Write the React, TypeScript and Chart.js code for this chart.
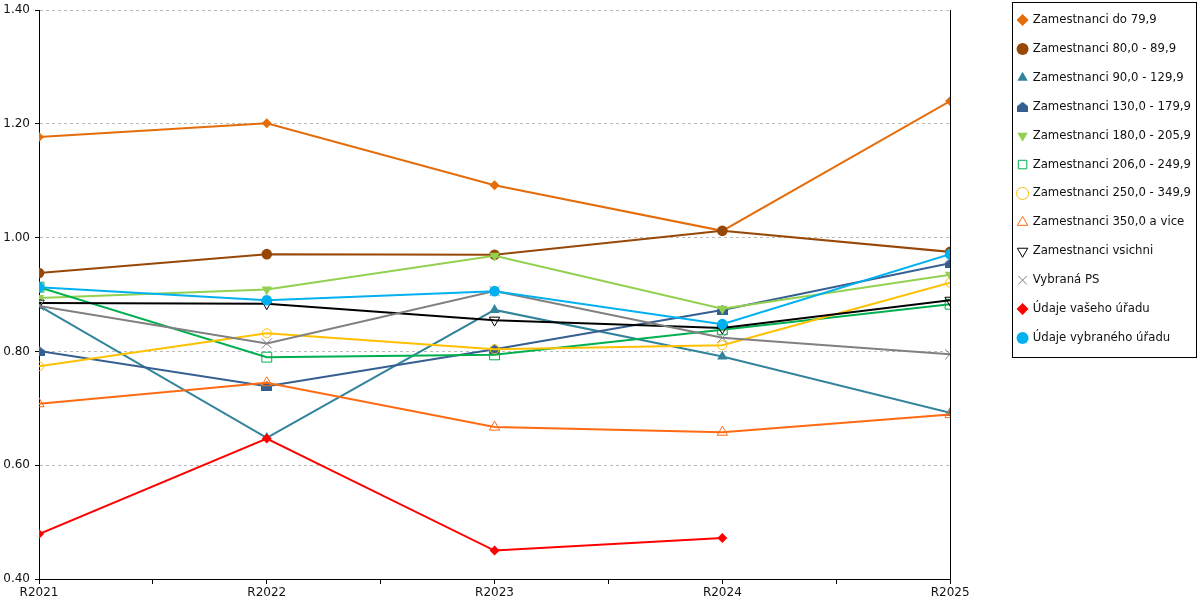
import { useEffect, useRef } from 'react';
import { Chart, registerables } from 'chart.js';

Chart.register(...registerables);

const years = ['R2021', 'R2022', 'R2023', 'R2024', 'R2025'];

const do79 = [1.177, 1.201, 1.092, 1.012, 1.24];
const z80 = [0.938, 0.971, 0.97, 1.012, 0.975];
const z90 = [0.88, 0.648, 0.873, 0.791, 0.692];
const z130 = [0.801, 0.739, 0.804, 0.873, 0.955];
const z180 = [0.894, 0.909, 0.968, 0.875, 0.935];
const z206 = [0.913, 0.79, 0.794, 0.838, 0.883];
const z250 = [0.774, 0.832, 0.804, 0.811, 0.921];
const z350 = [0.708, 0.745, 0.667, 0.658, 0.689];
const vsichni = [0.885, 0.884, 0.855, 0.841, 0.89];
const vybranaPS = [0.88, 0.814, 0.906, 0.824, 0.795];
const vasUrad = [0.479, 0.647, 0.45, 0.472, null];
const vybranyUrad = [0.913, 0.89, 0.906, 0.848, 0.971];

const FONT = 'DejaVu Sans';

function houseMarker(color: string) {
  const c = document.createElement('canvas');
  c.width = 11;
  c.height = 10;
  const ctx = c.getContext('2d')!;
  ctx.fillStyle = color;
  ctx.beginPath();
  ctx.moveTo(5.5, 0);
  ctx.lineTo(11, 4.5);
  ctx.lineTo(11, 10);
  ctx.lineTo(0, 10);
  ctx.lineTo(0, 4.5);
  ctx.closePath();
  ctx.fill();
  return c;
}

// frame round the legend, taken from the legend's own item boxes
const legendFrame = {
  id: 'legendFrame',
  afterDraw(chart: any) {
    const boxes = chart.legend?.legendHitBoxes;
    if (!boxes || !boxes.length) return;
    const ctx = chart.ctx;
    const left = Math.min(...boxes.map((b: any) => b.left)) - 6;
    const right = Math.max(...boxes.map((b: any) => b.left + b.width)) + 5;
    const top = boxes[0].top - 12;
    const last = boxes[boxes.length - 1];
    const bottom = last.top + last.height + 13;
    ctx.save();
    ctx.strokeStyle = '#000';
    ctx.lineWidth = 1;
    ctx.strokeRect(Math.round(left) + 0.5, Math.round(top) + 0.5, Math.round(right - left), Math.round(bottom - top));
    ctx.restore();
  },
};

export default function App() {
  const canvasRef = useRef<HTMLCanvasElement>(null);
  const chartRef = useRef<Chart | null>(null);

  useEffect(() => {
    if (!canvasRef.current) return;
    if (chartRef.current) chartRef.current.destroy();

    const pts = (vals: (number | null)[]) => vals.map((v, i) => ({ x: i, y: v }));

    const series = [
      { label: 'Zamestnanci do 79,9', data: do79, color: '#E46C0A', style: 'rectRot', r: 5, fill: true },
      { label: 'Zamestnanci 80,0 - 89,9', data: z80, color: '#974706', style: 'circle', r: 5.3, fill: true },
      { label: 'Zamestnanci 90,0 - 129,9', data: z90, color: '#31849B', style: 'triangle', r: 6, fill: true },
      { label: 'Zamestnanci 130,0 - 179,9', data: z130, color: '#365F91', style: houseMarker('#365F91'), r: 5, fill: true },
      { label: 'Zamestnanci 180,0 - 205,9', data: z180, color: '#92D050', style: 'triangle', r: 6, fill: true, rot: 180 },
      { label: 'Zamestnanci 206,0 - 249,9', data: z206, color: '#00B050', style: 'rect', r: 7, fill: false },
      { label: 'Zamestnanci 250,0 - 349,9', data: z250, color: '#FFC000', style: 'circle', r: 4.5, fill: false },
      { label: 'Zamestnanci 350,0 a vice', data: z350, color: '#FF6A13', style: 'triangle', r: 6, fill: false },
      { label: 'Zamestnanci vsichni', data: vsichni, color: '#000000', style: 'triangle', r: 6, fill: false, rot: 180 },
      { label: 'Vybraná PS', data: vybranaPS, color: '#808080', style: 'crossRot', r: 7, fill: false },
      { label: 'Údaje vašeho úřadu', data: vasUrad, color: '#FF0000', style: 'rectRot', r: 5, fill: true },
      { label: 'Údaje vybraného úřadu', data: vybranyUrad, color: '#00B0F0', style: 'circle', r: 5.3, fill: true },
    ];

    chartRef.current = new Chart(canvasRef.current, {
      type: 'line',
      data: {
        datasets: series.map((s, i) => ({
          label: s.label,
          data: pts(s.data),
          borderColor: s.color,
          backgroundColor: s.color,
          borderWidth: 2,
          pointStyle: s.style as any,
          pointRadius: s.r,
          pointRotation: s.rot || 0,
          pointBackgroundColor: s.fill ? s.color : 'rgba(0,0,0,0)',
          pointBorderColor: s.color,
          pointBorderWidth: s.fill ? 0 : 1,
          tension: 0,
          order: series.length - i,
        })),
      },
      plugins: [legendFrame],
      options: {
        responsive: true,
        maintainAspectRatio: false,
        animation: false,
        layout: { padding: { top: -3, right: -1, left: 0, bottom: 0 } },
        plugins: {
          tooltip: { enabled: false },
          legend: {
            position: 'right',
            align: 'start',
            labels: {
              usePointStyle: true,
              boxWidth: 8.5,
              boxHeight: 8.5,
              padding: 17.2,
              color: '#111',
              font: { family: FONT, size: 11.7 },
              sort: (a, b) => (a.datasetIndex ?? 0) - (b.datasetIndex ?? 0),
            },
          },
        },
        scales: {
          x: {
            type: 'linear',
            min: 0,
            max: years.length - 1,
            ticks: {
              stepSize: 0.5,
              autoSkip: false,
              maxRotation: 0,
              padding: 2,
              color: '#111',
              font: { family: FONT, size: 12 },
              callback: (v) => (Number.isInteger(v) ? years[v as number] : ''),
            },
            grid: { drawOnChartArea: false, tickLength: 5, tickColor: '#000' },
            border: { color: '#000', width: 1 },
            afterFit: (scale) => {
              scale.height = 21;
            },
          },
          y: {
            min: 0.4,
            max: 1.4,
            ticks: {
              stepSize: 0.2,
              padding: 5,
              color: '#111',
              font: { family: FONT, size: 12, lineHeight: 0.85 },
              callback: (v) => Number(v).toFixed(2),
            },
            grid: { color: '#BBBBBB', tickLength: 4, tickColor: '#000', tickBorderDash: [] },
            border: { color: '#000', width: 1, dash: [3, 3] },
            afterFit: (scale) => {
              scale.width = 39;
            },
          },
          y2: {
            position: 'right',
            ticks: { display: false },
            grid: { display: false },
            border: { color: '#000', width: 1 },
            afterFit: (scale) => {
              scale.width = 51;
            },
          },
        },
      },
    });

    return () => {
      chartRef.current?.destroy();
      chartRef.current = null;
    };
  }, []);

  return (
    <div style={{ position: 'fixed', left: 0, top: 0, width: 1200, height: 600, background: '#fff' }}>
      <canvas ref={canvasRef} />
    </div>
  );
}
